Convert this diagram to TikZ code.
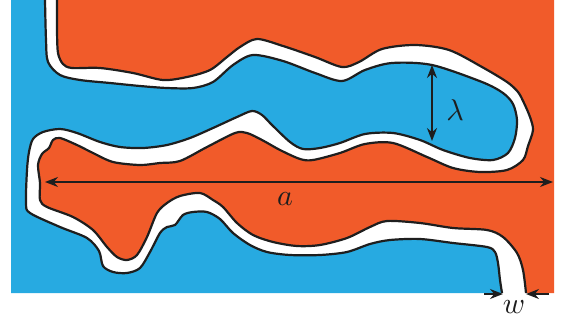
\documentclass[tikz,border=0pt]{standalone}
\usepackage{graphicx}
\usepackage{tikz}
\usetikzlibrary{arrows.meta}
\definecolor{bluedom}{RGB}{39,170,225}
\definecolor{orangedom}{RGB}{241,91,42}
\definecolor{ink}{RGB}{30,30,30}
\tikzset{
  wall/.style={line width=2.2pt,draw=ink,line join=round},
  dim/.style={{Stealth[length=13pt,width=10pt]}-{Stealth[length=13pt,width=10pt]},line width=1.6pt,draw=ink},
  halfdim/.style={-{Stealth[length=13pt,width=10pt]},line width=1.6pt,draw=ink},
  lbl/.style={inner sep=0pt,text=ink},
}
\newcommand{\biglbl}[1]{\scalebox{3}{$#1$}}
\newcommand{\bluewall}{plot[smooth,tension=.5] coordinates {
  (45,0) (46,40) (48,62) (60,75) (80,80) (110,83) (140,86) (167,88) (193,88) (213,82)
  (233,65) (253,55) (283,61) (315,73) (342,81) (365,70) (392,63) (432,65) (482,82)
  (503,93) (513,104) (517,120) (515,138) (508,153) (493,160) (470,158) (443,150)
  (420,140) (393,133) (365,134) (340,143) (320,148) (303,149) (290,142) (272,125)
  (262,115) (252,111) (237,117) (213,128) (190,138) (167,145) (143,148) (120,147)
  (100,142) (77,133) (60,129) (43,132) (33,139) (29,152) (27,170) (26,203) (30,213)
  (60,227) (87,238) (99,251) (103,266) (113,272) (127,273) (140,268) (150,252)
  (160,233) (167,227) (175,225) (183,215) (193,212) (207,212) (220,219) (233,233)
  (250,245) (267,252) (290,255) (320,255) (347,252) (370,244) (390,240) (420,239)
  (453,243) (487,247) (495,252) (498,263) (500,280) (502,293)}}
\newcommand{\orangewall}{plot[smooth,tension=.5] coordinates {
  (57,0) (57,30) (58,53) (63,64) (72,68) (100,68) (133,73) (163,80) (187,77) (210,70)
  (227,57) (240,47) (257,39) (283,46) (315,57) (342,67) (359,62) (382,49) (415,45)
  (449,50) (482,67) (507,82) (518,92) (524,103) (530,117) (533,130) (528,146)
  (523,160) (507,170) (480,172) (453,168) (427,157) (393,143) (365,144) (340,153)
  (313,160) (300,159) (280,150) (262,140) (247,133) (235,133) (207,147) (180,161)
  (160,163) (140,165) (113,162) (93,153) (77,145) (60,138) (53,140) (49,148) (42,154)
  (38,165) (40,183) (40,200) (47,207) (73,217) (93,230) (107,247) (117,257) (127,260)
  (137,255) (147,237) (157,213) (167,203) (180,196) (200,193) (213,200) (223,207)
  (237,223) (253,235) (273,242) (297,246) (320,245) (347,238) (370,227) (387,221)
  (420,223) (453,228) (487,230) (503,237) (517,253) (523,270) (526,293)}}

\begin{document}
\begin{tikzpicture}[x=1pt,y=-1pt]
  \useasboundingbox (0,0) rectangle (565,321);
  \fill[white] (11,0) rectangle (554,293);
  \fill[bluedom] \bluewall -- (11,293) -- (11,0) -- cycle;
  \fill[orangedom] \orangewall -- (554,293) -- (554,0) -- cycle;
  \draw[wall] \bluewall;
  \draw[wall] \orangewall;
  \coordinate (lamtop) at (432,65);
  \coordinate (lambot) at (432,141);
  \coordinate (aleft) at (45,182);
  \coordinate (aright) at (553,182);
  \coordinate (wltail) at (484,294);
  \coordinate (wlhead) at (503,294);
  \coordinate (wrtail) at (549,294);
  \coordinate (wrhead) at (526,294);
  \draw[dim] (lamtop) -- (lambot);
  \draw[dim] (aleft) -- (aright);
  \draw[halfdim] (wltail) -- (wlhead);
  \draw[halfdim] (wrtail) -- (wrhead);
  \node[lbl] (lamlbl) at (455,110) {\biglbl{\lambda}};
  \node[lbl] (albl) at (285,199) {\biglbl{a}};
  \node[lbl] (wlbl) at (514,307) {\biglbl{w}};
\end{tikzpicture}
\end{document}
